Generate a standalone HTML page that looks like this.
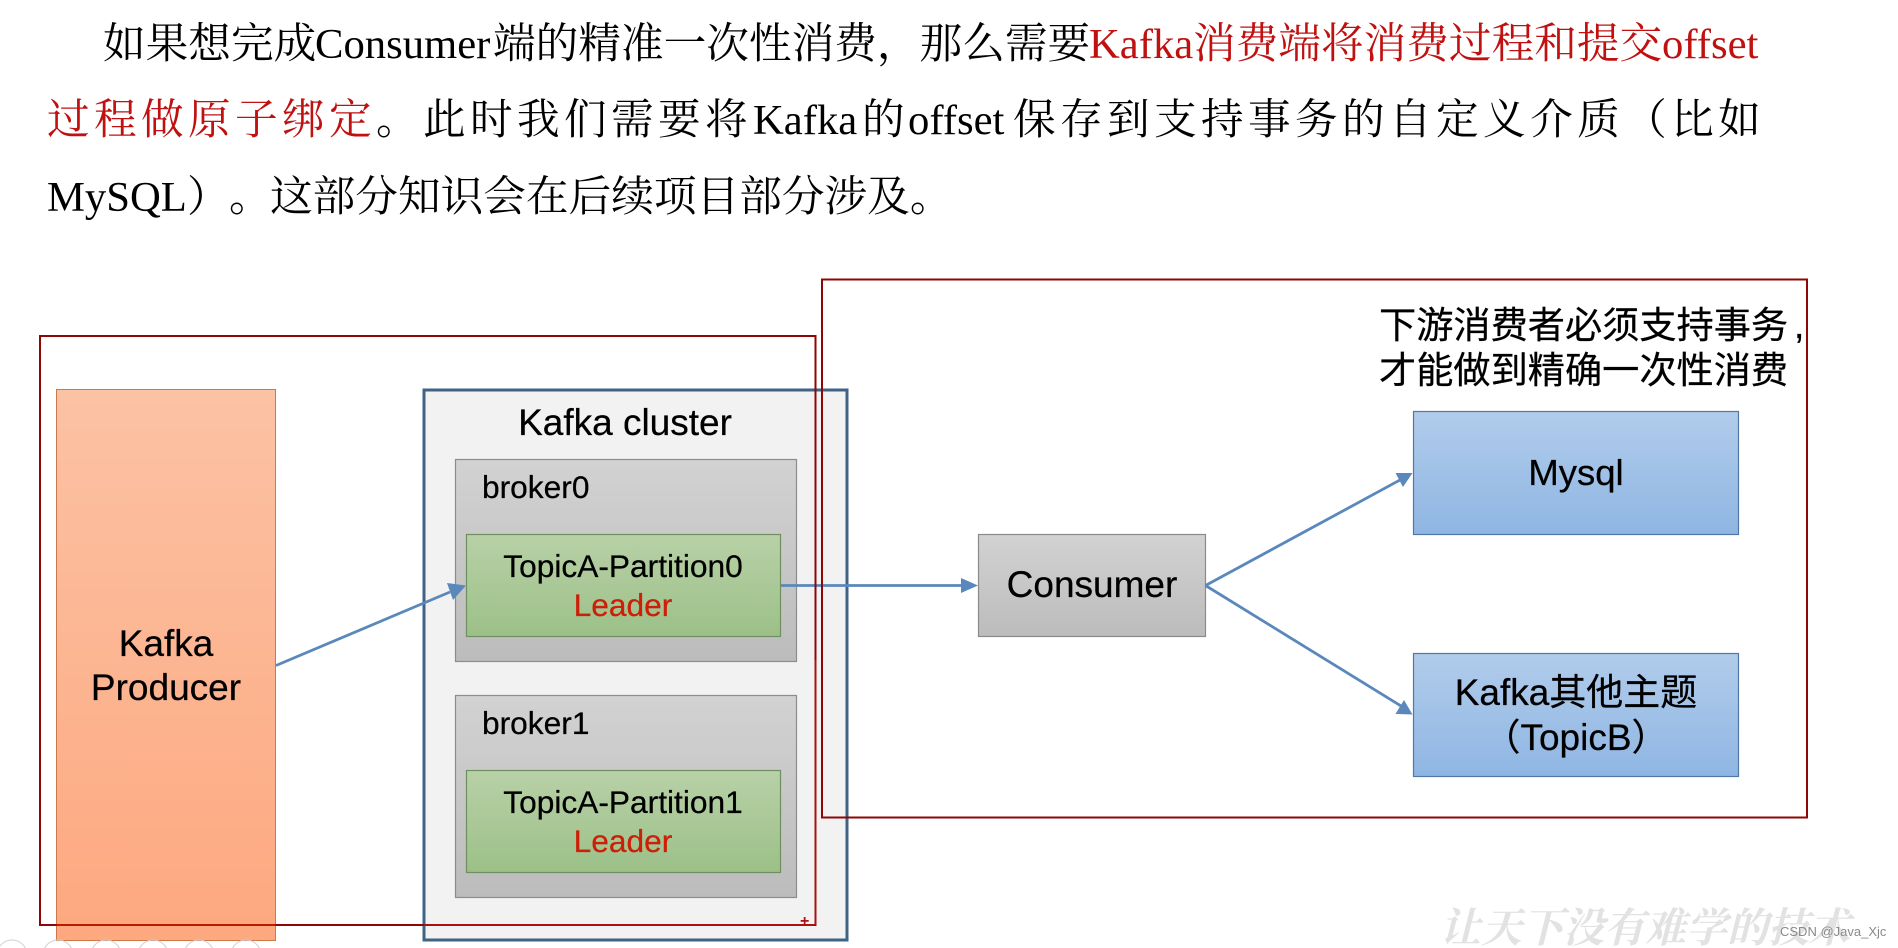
<!DOCTYPE html>
<html lang="zh-CN"><head><meta charset="utf-8"><title>Kafka</title>
<style>
html,body{margin:0;padding:0;background:#fff;width:1898px;height:948px;overflow:hidden}
svg{display:block}
.s{font-family:"Liberation Serif","Noto Serif CJK SC",serif;font-size:42.67px;fill:#000}
.r{fill:#c01010}
.sp{letter-spacing:4.35px}
.a{font-family:"Liberation Sans","Noto Sans CJK SC",sans-serif;fill:#000;stroke:#000;stroke-width:.25px}
.l{fill:#cc1f08;stroke:#cc1f08}
</style></head><body>
<svg width="1898" height="948" viewBox="0 0 1898 948" xmlns="http://www.w3.org/2000/svg">
<defs>
<linearGradient id="o" x1="0" y1="0" x2="0" y2="1"><stop offset="0" stop-color="#fcc2a4"/><stop offset="1" stop-color="#fda87f"/></linearGradient>
<linearGradient id="g" x1="0" y1="0" x2="0" y2="1"><stop offset="0" stop-color="#d2d2d2"/><stop offset="1" stop-color="#bcbcbc"/></linearGradient>
<linearGradient id="gr" x1="0" y1="0" x2="0" y2="1"><stop offset="0" stop-color="#b8d1a7"/><stop offset="1" stop-color="#9cc088"/></linearGradient>
<linearGradient id="b" x1="0" y1="0" x2="0" y2="1"><stop offset="0" stop-color="#b1cceb"/><stop offset="1" stop-color="#8fb6e3"/></linearGradient>
</defs>

<!-- paragraph -->
<text class="s" y="58"><tspan x="103">如果想完成</tspan><tspan x="315">Consumer</tspan><tspan x="493">端的精准一次性消费，那么需要</tspan><tspan x="1089" class="r">Kafka</tspan><tspan x="1193" class="r">消费端将消费过程和提交</tspan><tspan x="1662" class="r">offset</tspan></text>
<text class="s" y="134"><tspan x="47" class="r sp">过程做原子绑定</tspan><tspan x="376" class="sp">。此时我们需要将</tspan><tspan x="753">Kafka</tspan><tspan x="862" class="sp">的</tspan><tspan x="908">offset</tspan><tspan x="1013" class="sp">保存到支持事务的自定义介质（比如</tspan></text>
<text class="s" y="211"><tspan x="47">MySQL</tspan><tspan x="187">）</tspan><tspan x="229">。</tspan><tspan x="270">这部分知识会在后续项目部分涉及。</tspan></text>

<!-- producer -->
<rect x="56.5" y="389.5" width="219" height="551" fill="url(#o)" stroke="#c9794c" stroke-width="1"/>
<text class="a" font-size="37" text-anchor="middle" x="166" y="656">Kafka</text>
<text class="a" font-size="37" text-anchor="middle" x="166" y="700">Producer</text>

<!-- cluster -->
<rect x="424" y="390" width="423" height="550" fill="#f2f2f2" stroke="#3f6384" stroke-width="3"/>
<text class="a" font-size="37" text-anchor="middle" x="625" y="435">Kafka cluster</text>

<rect x="455.5" y="459.5" width="341" height="202" fill="url(#g)" stroke="#8c8c8c" stroke-width="1.2"/>
<text class="a" font-size="31.7" x="482" y="498">broker0</text>
<rect x="466.5" y="534.5" width="314" height="102" fill="url(#gr)" stroke="#6f8f5f" stroke-width="1.2"/>
<text class="a" font-size="31.7" text-anchor="middle" x="623" y="577">TopicA-Partition0</text>
<text class="a l" font-size="31.7" text-anchor="middle" x="623" y="616">Leader</text>

<rect x="455.5" y="695.5" width="341" height="202" fill="url(#g)" stroke="#8c8c8c" stroke-width="1.2"/>
<text class="a" font-size="31.7" x="482" y="734">broker1</text>
<rect x="466.5" y="770.5" width="314" height="102" fill="url(#gr)" stroke="#6f8f5f" stroke-width="1.2"/>
<text class="a" font-size="31.7" text-anchor="middle" x="623" y="813">TopicA-Partition1</text>
<text class="a l" font-size="31.7" text-anchor="middle" x="623" y="852">Leader</text>

<!-- consumer -->
<rect x="978.5" y="534.5" width="227" height="102" fill="url(#g)" stroke="#8a8a8a" stroke-width="1.2"/>
<text class="a" font-size="37" text-anchor="middle" x="1092" y="597">Consumer</text>

<!-- right boxes -->
<rect x="1413.5" y="411.5" width="325" height="123" fill="url(#b)" stroke="#4f78a8" stroke-width="1.2"/>
<text class="a" font-size="36.5" text-anchor="middle" x="1576" y="485">Mysql</text>
<rect x="1413.5" y="653.5" width="325" height="123" fill="url(#b)" stroke="#4f78a8" stroke-width="1.2"/>
<text class="a" font-size="37" text-anchor="middle" x="1576" y="705">Kafka其他主题</text>
<text class="a" font-size="37" text-anchor="middle" x="1576" y="750">（TopicB）</text>

<text class="a" font-size="37.2" y="338"><tspan x="1379">下游消费者必须支持事务</tspan><tspan x="1794">,</tspan></text>
<text class="a" font-size="37.2" x="1379" y="383">才能做到精确一次性消费</text>

<!-- arrows -->
<g stroke="#5a88bc" stroke-width="2.8" fill="none">
<line x1="276" y1="665.5" x2="450" y2="592"/>
<line x1="781" y1="585.5" x2="962" y2="585.5"/>
<line x1="1205.5" y1="585.5" x2="1400" y2="480"/>
<line x1="1205.5" y1="585.5" x2="1401" y2="706"/>
</g>
<g fill="#5a88bc">
<polygon points="466,585.5 447,583 453,600"/>
<polygon points="978,585.5 961,578 961,593"/>
<polygon points="1412.5,473 1395.5,473 1403,487"/>
<polygon points="1412.5,714.5 1404,700 1395.5,714"/>
</g>

<!-- red outlines -->
<g fill="none" stroke="#8f0606" stroke-width="2">
<rect x="40" y="336" width="775.5" height="589"/>
<rect x="822" y="279.5" width="985" height="538"/>
</g>
<line x1="56.5" y1="925" x2="275.5" y2="925" stroke="#bb1a02" stroke-width="2"/>
<line x1="424" y1="925" x2="815" y2="925" stroke="#ab1010" stroke-width="2"/>
<line x1="815.5" y1="660" x2="815.5" y2="925" stroke="#ab1010" stroke-width="2"/>
<text x="800" y="926" font-family="Liberation Sans,sans-serif" font-size="16" font-weight="bold" fill="#b01010">+</text>

<!-- watermark -->
<text x="1440" y="942" font-family="Noto Serif CJK SC,serif" font-size="41" font-weight="700" font-style="italic" fill="#e2e2e2">让天下没有难学的技术</text>
<text x="1780" y="936" font-family="Liberation Sans,sans-serif" font-size="13" fill="#8a8a8a">CSDN @Java_Xjc</text>

<!-- player controls -->
<g fill="none" stroke="#d0d0d0" stroke-width="1">
<circle cx="12" cy="955" r="15"/><circle cx="58" cy="955" r="15"/><circle cx="106" cy="955" r="15"/>
<circle cx="153" cy="955" r="15"/><circle cx="199" cy="955" r="15"/><circle cx="246" cy="955" r="15"/>
</g>
</svg>
</body></html>
